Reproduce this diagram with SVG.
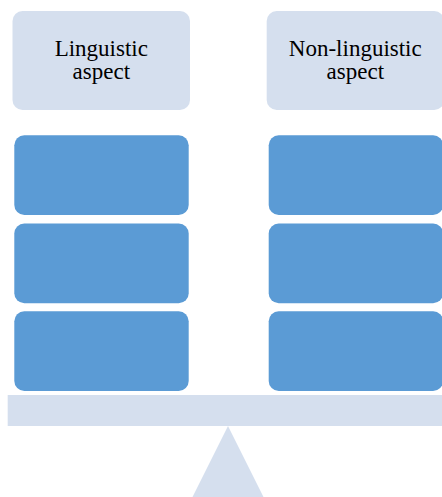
<svg xmlns="http://www.w3.org/2000/svg" width="442" height="497" viewBox="0 0 442 497">
<style>
.lbl{fill:#D5DFEE}
.blk{fill:#5B9BD5}
.t{font-family:"Liberation Serif","Times New Roman",serif;font-size:23px;fill:#000;text-anchor:middle}
</style>
<rect width="442" height="497" fill="#fff"/>
<g id="fulcrum"><polygon class="lbl" points="228,426 186,510 270,510"/></g>
<g id="beam"><rect class="lbl" x="7.7" y="395" width="440" height="31"/></g>
<g id="label-left">
<rect class="lbl" x="12.5" y="11" width="177.5" height="99" rx="10"/>
<text class="t" x="101.3" y="55.5">Linguistic</text>
<text class="t" x="101.3" y="79">aspect</text>
</g>
<g id="label-right">
<rect class="lbl" x="266.7" y="11" width="177.5" height="99" rx="10"/>
<text class="t" x="355.3" y="55.5">Non-linguistic</text>
<text class="t" x="355.3" y="79">aspect</text>
</g>
<g id="left-1"><rect class="blk" x="14.3" y="135.3" width="174.4" height="79.7" rx="10"/></g>
<g id="left-2"><rect class="blk" x="14.3" y="223.5" width="174.4" height="79.7" rx="10"/></g>
<g id="left-3"><rect class="blk" x="14.3" y="311.2" width="174.4" height="79.7" rx="10"/></g>
<g id="right-1"><rect class="blk" x="268.7" y="135.3" width="174.4" height="79.7" rx="10"/></g>
<g id="right-2"><rect class="blk" x="268.7" y="223.5" width="174.4" height="79.7" rx="10"/></g>
<g id="right-3"><rect class="blk" x="268.7" y="311.2" width="174.4" height="79.7" rx="10"/></g>
<g id="connectors"></g>
</svg>
